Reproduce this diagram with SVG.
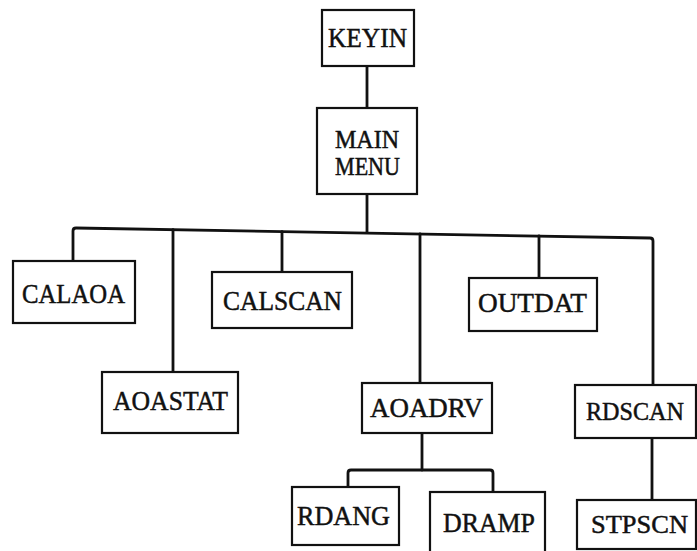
<svg xmlns="http://www.w3.org/2000/svg" width="697" height="551" viewBox="0 0 697 551">
  <style>
    .box { fill: #fff; stroke: #111; stroke-width: 2.2; }
    .lbl { font-family: "Liberation Serif", "Times New Roman", serif; font-size: 28px; fill: #111; stroke: #111; stroke-width: 0.5; text-anchor: middle; }
    .tight { font-size: 25px; }
    .edge { font-size: 26px; }
    .wire { fill: none; stroke: #111; stroke-width: 2.8; stroke-linejoin: round; stroke-linecap: round; }
  </style>
  <rect width="697" height="551" fill="#fff"/>

  <!-- call-tree connectors -->
  <g id="connectors">
    <line class="wire" x1="367" y1="66" x2="367" y2="108"/>
    <line class="wire" x1="367" y1="194" x2="367" y2="232"/>
    <!-- main bus with end drops to CALAOA and RDSCAN -->
    <path class="wire" d="M73,261 L73,231 Q73,228 76,228 L650,238 Q653,238 653,241 L653,385"/>
    <line class="wire" x1="173" y1="229.7" x2="173" y2="372"/>
    <line class="wire" x1="282" y1="231.6" x2="282" y2="272"/>
    <line class="wire" x1="420" y1="234" x2="420" y2="383"/>
    <line class="wire" x1="539" y1="236" x2="539" y2="278"/>
    <!-- AOADRV branch -->
    <line class="wire" x1="422" y1="433" x2="422" y2="470"/>
    <path class="wire" d="M348,487 L348,473 Q348,470 351,470 L490,470 Q493,470 493,473 L493,492"/>
    <!-- RDSCAN to STPSCN -->
    <line class="wire" x1="652" y1="438" x2="652" y2="500"/>
  </g>

  <g id="keyin">
    <rect class="box" x="322" y="10" width="92" height="56"/>
    <text class="lbl" x="367.5" y="47" textLength="79" lengthAdjust="spacingAndGlyphs">KEYIN</text>
  </g>
  <g id="main-menu">
    <rect class="box" x="317" y="108" width="100" height="86"/>
    <text class="lbl tight" x="367" y="148" textLength="64" lengthAdjust="spacingAndGlyphs">MAIN</text>
    <text class="lbl tight" x="367.5" y="175" textLength="65" lengthAdjust="spacingAndGlyphs">MENU</text>
  </g>
  <g id="calaoa">
    <rect class="box" x="13" y="261" width="122" height="62"/>
    <text class="lbl" x="73.5" y="303" textLength="103" lengthAdjust="spacingAndGlyphs">CALAOA</text>
  </g>
  <g id="calscan">
    <rect class="box" x="212" y="272" width="140" height="56"/>
    <text class="lbl" x="282.5" y="310" textLength="119" lengthAdjust="spacingAndGlyphs">CALSCAN</text>
  </g>
  <g id="aoastat">
    <rect class="box" x="102" y="372" width="136" height="61"/>
    <text class="lbl" x="170.5" y="410" textLength="115" lengthAdjust="spacingAndGlyphs">AOASTAT</text>
  </g>
  <g id="aoadrv">
    <rect class="box" x="362" y="383" width="130" height="50"/>
    <text class="lbl" x="426.5" y="417" textLength="113" lengthAdjust="spacingAndGlyphs">AOADRV</text>
  </g>
  <g id="outdat">
    <rect class="box" x="469" y="278" width="128" height="53"/>
    <text class="lbl" x="532.5" y="312" textLength="109" lengthAdjust="spacingAndGlyphs">OUTDAT</text>
  </g>
  <g id="rdscan">
    <rect class="box" x="575" y="385" width="121" height="53"/>
    <text class="lbl edge" x="635" y="420" textLength="98" lengthAdjust="spacingAndGlyphs">RDSCAN</text>
  </g>
  <g id="stpscn">
    <rect class="box" x="577" y="500" width="119" height="49"/>
    <text class="lbl edge" x="639.5" y="533" textLength="97" lengthAdjust="spacingAndGlyphs">STPSCN</text>
  </g>
  <g id="rdang">
    <rect class="box" x="292" y="487" width="107" height="58"/>
    <text class="lbl" x="343.5" y="525" textLength="93" lengthAdjust="spacingAndGlyphs">RDANG</text>
  </g>
  <g id="dramp">
    <rect class="box" x="430" y="492" width="115" height="62"/>
    <text class="lbl" x="489" y="532" textLength="92" lengthAdjust="spacingAndGlyphs">DRAMP</text>
  </g>
</svg>
